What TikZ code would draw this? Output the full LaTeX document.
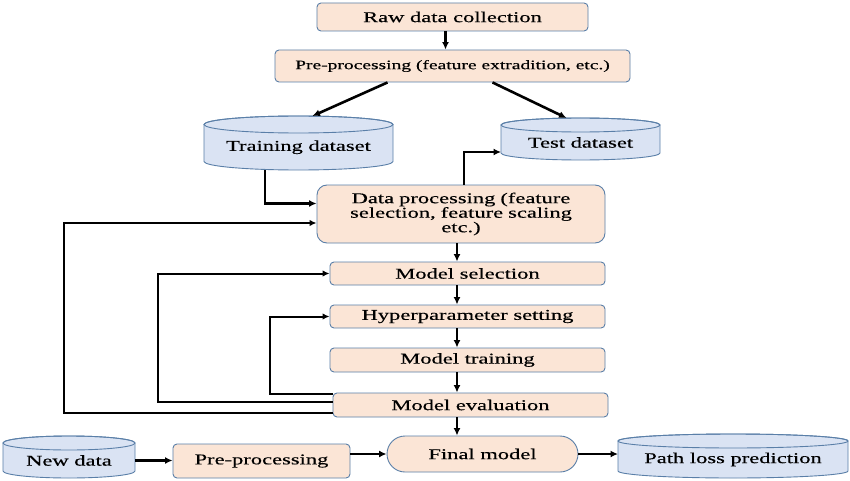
\documentclass[tikz,border=0pt]{standalone}
\usepackage{fontspec}
\setmainfont{Liberation Serif}[FakeStretch=1.5,FakeBold=0.35]
\usetikzlibrary{arrows.meta}
\definecolor{peach}{HTML}{FBE5D6}
\definecolor{cylblue}{HTML}{DAE3F3}
\definecolor{edgeblue}{HTML}{5A7FA8}
\tikzset{
  procbox/.style={draw=edgeblue, fill=peach, line width=0.9pt, rounded corners=4pt, align=center, inner sep=2pt, font=\fontsize{15}{14.5}\selectfont},
  cylfill/.style={draw=edgeblue, fill=cylblue, line width=0.9pt},
  cyltext/.style={font=\fontsize{15}{16}\selectfont, inner sep=1pt},
  arr/.style={line width=2.6pt, -{Latex[length=7.5pt,width=7pt]}},
  loopline/.style={line width=2pt, -{Latex[length=7pt,width=6.5pt]}}
}
\newcommand\cylnode[7]{% name, cx, rx, Ytop, Ybot, ry, text
  \path[cylfill] (#2-#3,#4-#6) -- (#2-#3,#5+#6)
     arc[start angle=180,end angle=360,x radius=#3,y radius=#6]
     -- (#2+#3,#4-#6)
     arc[start angle=0,end angle=180,x radius=#3,y radius=#6] -- cycle;
  \draw[draw=edgeblue, line width=0.9pt] (#2,#4-#6) ellipse[x radius=#3,y radius=#6];
  \node[cyltext] (#1) at (#2,{(#4-#6+#5)/2}) {#7};
  \coordinate (#1-top) at (#2,#4);
  \coordinate (#1-bottom) at (#2,#5);
  \coordinate (#1-left) at (#2-#3,{(#4-#6+#5)/2});
  \coordinate (#1-right) at (#2+#3,{(#4-#6+#5)/2});
}
\begin{document}
\begin{tikzpicture}[x=1pt,y=1pt]
\useasboundingbox (0,0) rectangle (850,480);
\fill[white] (0,0) rectangle (850,480);

% top boxes
\node[procbox, minimum width=271pt, minimum height=28pt] (raw) at (452.5,463) {Raw data collection};
\node[procbox, minimum width=355pt, minimum height=32pt, font=\fontsize{13}{15}\selectfont] (pre) at (452.5,414) {Pre-processing (feature extradition, etc.)};

% datasets
\cylnode{train}{298.5}{94.5}{364}{310}{8.5}{Training dataset}
\cylnode{test}{580.5}{79.5}{362}{320}{7}{Test dataset}

% processing chain
\node[procbox, rounded corners=10pt, minimum width=288pt, minimum height=58pt, text width=270pt] (dp) at (461,266)
  {Data processing (feature\\selection, feature scaling\\etc.)};
\node[procbox, minimum width=275pt, minimum height=23pt] (ms) at (467.5,206.5) {Model selection};
\node[procbox, minimum width=275pt, minimum height=23pt] (hp) at (467.5,163.5) {Hyperparameter setting};
\node[procbox, minimum width=275pt, minimum height=24pt] (mt) at (467.5,120) {Model training};
\node[procbox, minimum width=275pt, minimum height=24pt] (me) at (470.5,75) {Model evaluation};

% bottom row
\cylnode{nd}{69}{66}{44}{2}{7}{New data}
\node[procbox, minimum width=177pt, minimum height=34pt] (pp) at (261.5,19) {Pre-processing};
\node[procbox, rounded corners=18pt, minimum width=191pt, minimum height=36pt] (fm) at (482.5,26) {Final model};
\cylnode{pl}{733}{115}{46}{2}{7}{Path loss prediction}

% connectors
\draw[arr] ([xshift=-7pt]raw.south) -- ([xshift=-7pt]pre.north);
\draw[arr] ([xshift=-65pt]pre.south) -- ([xshift=14pt]train-top);
\draw[arr] ([xshift=40pt]pre.south) -- ([xshift=-14pt]test-top);
\draw[arr] ([xshift=-33.5pt]train-bottom) |- ([yshift=10.5pt]dp.west);
\draw[arr] ([xshift=3pt]dp.north) |- ([yshift=-9.5pt]test-left);

\draw[arr] ([xshift=-4pt]dp.south) -- ([xshift=-4pt]dp.south |- ms.north);
\draw[arr] ([xshift=-10.5pt]ms.south) -- ([xshift=-10.5pt]ms.south |- hp.north);
\draw[arr] ([xshift=-10.5pt]hp.south) -- ([xshift=-10.5pt]hp.south |- mt.north);
\draw[arr] ([xshift=-10.5pt]mt.south) -- ([xshift=-10.5pt]mt.south |- me.north);
\draw[arr] ([xshift=-13.5pt]me.south) -- ([xshift=-13.5pt]me.south |- fm.north);

% feedback loops
\draw[loopline] ([yshift=-8pt]me.west) -- ++(-269,0) |- ([yshift=-9pt]dp.west);
\draw[loopline] ([yshift=3pt]me.west) -- ++(-175,0) |- (ms.west);
\draw[loopline] ([yshift=11pt]me.west) -- ++(-63,0) |- (hp.west);

% bottom row arrows
\draw[arr] (nd-right) -- (nd-right -| pp.west);
\draw[arr] (pp.east |- fm.west) -- (fm.west);
\draw[arr] (fm.east) -- (fm.east -| pl-left);
\end{tikzpicture}
\end{document}
